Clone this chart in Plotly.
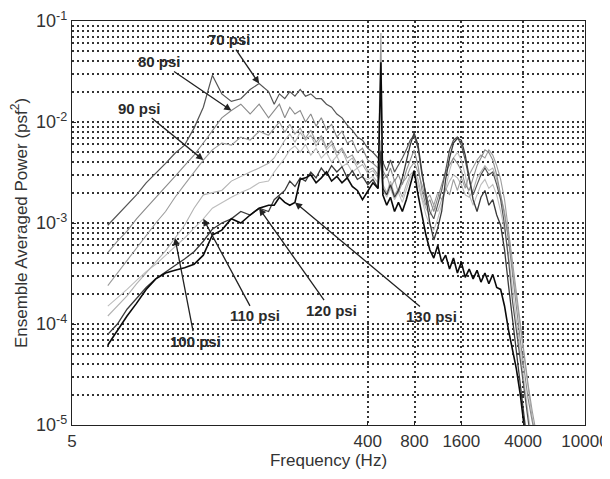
import math
import plotly.graph_objects as go

# Frequency grid (Hz)
freq_hz = [
    8.5, 9.8, 11.3, 13.0, 15.0, 17.3, 20, 23, 26.5, 30.5, 35, 40, 46, 53, 61, 70, 80, 92,
    100, 108, 117, 126, 136, 147, 159, 172, 186, 201, 217, 234, 253, 273, 295, 318, 343, 370, 400, 432, 466,
    486,
    500, 530, 560, 595, 630, 668, 708, 750, 795, 843, 893, 947, 1004, 1064, 1128, 1196, 1268, 1344, 1424, 1510,
    1600, 1696, 1798, 1906, 2020, 2141, 2270, 2406, 2550, 2703, 2865, 3037, 3220, 3413, 3617, 3835, 4065, 4308,
    4567, 4841, 5131, 5439, 5765, 6111,
]

p70 = [
    9.5e-4, 1.2e-3, 1.5e-3, 1.9e-3, 2.5e-3, 3.1e-3, 3.9e-3, 4.9e-3, 5.9e-3, 8.7e-3, 1.4e-2, 2.9e-2, 1.9e-2, 1.6e-2, 1.7e-2, 2.1e-2, 2.4e-2, 2.0e-2,
    1.5e-2, 1.9e-2, 1.7e-2, 2.0e-2, 1.8e-2, 2.1e-2, 1.8e-2, 1.9e-2, 1.7e-2, 1.7e-2, 1.5e-2, 1.4e-2, 1.2e-2, 1.1e-2, 9.3e-3, 8.3e-3, 7.1e-3, 6.6e-3, 5.5e-3, 5.0e-3, 4.4e-3,
    5.2e-3,
    4.0e-3, 3.3e-3, 4.2e-3, 3.2e-3, 3.7e-3, 4.4e-3, 5.3e-3, 6.6e-3, 7.4e-3, 5.5e-3, 3.0e-3, 1.9e-3, 1.3e-3, 1.1e-3, 1.5e-3, 2.1e-3, 3.3e-3, 5.3e-3, 6.6e-3, 7.1e-3,
    5.9e-3, 4.2e-3, 2.7e-3, 1.9e-3, 2.4e-3, 3.0e-3, 3.5e-3, 3.0e-3, 3.2e-3, 2.4e-3, 1.7e-3, 9.5e-4, 4.3e-4, 1.7e-4, 8.7e-5, 4.4e-5, 2.0e-5, 1.0e-5,
    5.6e-6, None, None, None, None, None,
]
p80 = [
    5.1e-4, 6.6e-4, 8.3e-4, 1.1e-3, 1.4e-3, 1.8e-3, 2.3e-3, 2.9e-3, 3.7e-3, 4.7e-3, 6.2e-3, 8.3e-3, 1.1e-2, 1.3e-2, 1.5e-2, 1.2e-2, 1.5e-2, 1.1e-2,
    1.3e-2, 1.5e-2, 1.1e-2, 1.4e-2, 1.2e-2, 1.3e-2, 1.0e-2, 1.2e-2, 9.1e-3, 1.1e-2, 8.3e-3, 9.5e-3, 7.1e-3, 8.1e-3, 6.2e-3, 6.6e-3, 5.0e-3, 5.5e-3, 4.2e-3, 3.9e-3, 3.5e-3,
    4.7e-3,
    3.3e-3, 2.8e-3, 3.5e-3, 2.6e-3, 3.0e-3, 2.4e-3, 3.3e-3, 4.2e-3, 5.3e-3, 3.7e-3, 2.1e-3, 1.5e-3, 1.7e-3, 1.3e-3, 1.8e-3, 2.4e-3, 3.2e-3, 3.7e-3, 4.4e-3, 3.9e-3,
    3.3e-3, 2.4e-3, 2.1e-3, 2.8e-3, 3.7e-3, 4.4e-3, 5.3e-3, 5.0e-3, 4.2e-3, 3.0e-3, 1.9e-3, 1.2e-3, 6.8e-4, 3.1e-4, 1.4e-4, 6.9e-5, 3.5e-5, 1.8e-5,
    1.1e-5, 7.1e-6, None, None, None, None,
]
p90 = [
    2.4e-4, 3.2e-4, 4.3e-4, 5.6e-4, 7.6e-4, 1.0e-3, 1.3e-3, 1.8e-3, 2.4e-3, 3.2e-3, 4.2e-3, 5.3e-3, 6.2e-3, 5.9e-3, 7.1e-3, 6.6e-3, 8.1e-3, 7.4e-3,
    8.7e-3, 1.0e-2, 7.9e-3, 9.5e-3, 7.6e-3, 8.7e-3, 6.9e-3, 8.3e-3, 6.3e-3, 7.3e-3, 5.6e-3, 6.5e-3, 5.0e-3, 5.5e-3, 4.4e-3, 4.7e-3, 3.8e-3, 4.2e-3, 3.3e-3, 3.5e-3, 3.0e-3,
    7.6e-2,
    2.7e-3, 3.0e-3, 2.2e-3, 2.7e-3, 2.0e-3, 2.5e-3, 2.8e-3, 3.5e-3, 4.0e-3, 3.2e-3, 2.4e-3, 1.7e-3, 1.9e-3, 1.5e-3, 2.0e-3, 1.7e-3, 2.2e-3, 1.9e-3, 2.7e-3, 2.1e-3,
    2.8e-3, 2.2e-3, 3.0e-3, 3.5e-3, 4.2e-3, 4.7e-3, 4.4e-3, 5.3e-3, 4.7e-3, 3.7e-3, 2.7e-3, 1.7e-3, 8.5e-4, 4.1e-4, 1.9e-4, 9.8e-5, 4.9e-5, 2.5e-5,
    1.4e-5, 8.5e-6, 6.3e-6, None, None, None,
]
p100 = [
    1.2e-4, 1.5e-4, 1.9e-4, 2.5e-4, 3.2e-4, 4.1e-4, 5.3e-4, 7.1e-4, 9.5e-4, 1.4e-3, 1.9e-3, 2.0e-3, 2.1e-3, 2.6e-3, 2.9e-3, 3.2e-3, 3.5e-3, 3.9e-3,
    4.4e-3, 5.3e-3, 6.6e-3, 7.6e-3, 6.3e-3, 7.9e-3, 6.6e-3, 7.4e-3, 5.8e-3, 6.9e-3, 5.3e-3, 6.0e-3, 4.6e-3, 5.3e-3, 4.0e-3, 4.4e-3, 3.5e-3, 3.8e-3, 3.1e-3, 3.3e-3, 2.8e-3,
    6.6e-3,
    2.4e-3, 2.0e-3, 2.6e-3, 1.9e-3, 2.2e-3, 1.8e-3, 2.4e-3, 3.0e-3, 3.3e-3, 2.7e-3, 1.8e-3, 1.4e-3, 1.2e-3, 1.5e-3, 1.3e-3, 1.7e-3, 2.1e-3, 2.6e-3, 3.0e-3, 2.8e-3,
    2.4e-3, 1.9e-3, 1.8e-3, 2.1e-3, 2.8e-3, 3.2e-3, 3.7e-3, 3.3e-3, 3.5e-3, 2.7e-3, 1.9e-3, 1.3e-3, 7.1e-4, 3.6e-4, 1.8e-4, 8.7e-5, 4.2e-5, 2.1e-5,
    1.2e-5, 7.1e-6, None, None, None, None,
]
p110 = [
    1.5e-4, 1.8e-4, 2.2e-4, 2.7e-4, 3.3e-4, 3.9e-4, 4.8e-4, 5.8e-4, 7.1e-4, 8.9e-4, 1.1e-3, 1.4e-3, 1.6e-3, 1.8e-3, 2.0e-3, 2.2e-3, 2.5e-3, 2.6e-3,
    3.2e-3, 3.7e-3, 4.4e-3, 5.3e-3, 5.8e-3, 5.0e-3, 6.0e-3, 4.7e-3, 5.5e-3, 4.4e-3, 5.0e-3, 4.0e-3, 4.6e-3, 3.6e-3, 3.9e-3, 3.2e-3, 3.5e-3, 2.8e-3, 2.7e-3, 2.9e-3, 2.5e-3,
    4.2e-3,
    2.1e-3, 1.8e-3, 2.2e-3, 1.7e-3, 2.0e-3, 1.6e-3, 2.1e-3, 2.8e-3, 3.2e-3, 2.4e-3, 1.7e-3, 1.2e-3, 9.5e-4, 8.5e-4, 1.1e-3, 1.5e-3, 2.2e-3, 3.3e-3, 4.4e-3, 5.0e-3,
    4.2e-3, 3.0e-3, 1.9e-3, 1.5e-3, 1.9e-3, 2.4e-3, 2.7e-3, 2.2e-3, 2.4e-3, 1.9e-3, 1.3e-3, 8.5e-4, 4.8e-4, 2.2e-4, 1.1e-4, 5.5e-5, 2.5e-5, 1.3e-5,
    7.1e-6, None, None, None, None, None,
]
p120 = [
    7.9e-5, 1.0e-4, 1.4e-4, 1.8e-4, 2.3e-4, 2.8e-4, 3.3e-4, 3.8e-4, 4.4e-4, 5.2e-4, 6.6e-4, 8.7e-4, 1.0e-3, 1.1e-3, 1.3e-3, 1.2e-3, 1.4e-3, 1.3e-3,
    1.7e-3, 1.9e-3, 2.1e-3, 2.6e-3, 2.3e-3, 2.8e-3, 2.6e-3, 3.2e-3, 2.8e-3, 3.5e-3, 3.0e-3, 3.7e-3, 3.2e-3, 3.6e-3, 2.8e-3, 3.3e-3, 2.7e-3, 2.9e-3, 2.4e-3, 2.7e-3, 2.2e-3,
    5.0e-3,
    2.2e-3, 1.9e-3, 2.4e-3, 1.8e-3, 2.1e-3, 2.8e-3, 4.2e-3, 5.9e-3, 7.8e-3, 5.9e-3, 3.2e-3, 1.7e-3, 1.0e-3, 6.8e-4, 8.9e-4, 1.3e-3, 2.7e-3, 4.4e-3, 6.2e-3, 6.9e-3,
    6.6e-3, 4.7e-3, 2.8e-3, 1.7e-3, 1.3e-3, 1.8e-3, 2.1e-3, 1.5e-3, 1.7e-3, 1.2e-3, 9.5e-4, 5.4e-4, 2.4e-4, 1.1e-4, 4.9e-5, 2.5e-5, 1.1e-5, 5.6e-6,
    None, None, None, None, None, None,
]
p130 = [
    6.2e-5, 8.7e-5, 1.2e-4, 1.6e-4, 2.2e-4, 2.8e-4, 3.2e-4, 3.4e-4, 3.6e-4, 3.9e-4, 4.8e-4, 7.6e-4, 8.5e-4, 1.1e-3, 1.0e-3, 1.2e-3, 1.4e-3, 1.5e-3,
    1.5e-3, 1.8e-3, 1.6e-3, 1.5e-3, 1.6e-3, 2.7e-3, 2.8e-3, 3.0e-3, 2.5e-3, 2.8e-3, 3.2e-3, 2.6e-3, 2.9e-3, 2.5e-3, 2.8e-3, 2.3e-3, 2.1e-3, 1.7e-3, 2.1e-3, 2.5e-3, 2.2e-3,
    3.9e-2,
    1.9e-3, 1.5e-3, 1.8e-3, 1.3e-3, 1.6e-3, 1.3e-3, 1.7e-3, 2.4e-3, 3.3e-3, 1.9e-3, 1.2e-3, 7.6e-4, 5.4e-4, 4.5e-4, 6.0e-4, 4.1e-4, 4.8e-4, 3.5e-4, 4.5e-4, 3.2e-4,
    4.1e-4, 2.9e-4, 3.5e-4, 2.8e-4, 3.4e-4, 2.6e-4, 3.2e-4, 2.5e-4, 3.1e-4, 2.3e-4, 2.2e-4, 1.5e-4, 8.7e-5, 5.5e-5, 3.6e-5, 2.0e-5, 8.9e-6, 4.5e-6,
    None, None, None, None, None, None,
]

series_labels = ["70 psi", "80 psi", "90 psi", "100 psi", "110 psi", "120 psi", "130 psi"]
series_values = [p70, p80, p90, p100, p110, p120, p130]

x_tick_values = [5, 400, 800, 1600, 4000, 10000]
x_tick_labels = ["5", "400", "800", "1600", "4000", "10000"]
y_tick_values = [1e-5, 1e-4, 1e-3, 1e-2, 1e-1]
y_tick_labels = ["10<sup>-5</sup>", "10<sup>-4</sup>", "10<sup>-3</sup>", "10<sup>-2</sup>", "10<sup>-1</sup>"]

# styling
colors = ["#555555", "#8a8a8a", "#9c9c9c", "#b2b2b2", "#bebebe", "#3a3a3a", "#0a0a0a"]
widths = [1.2, 1.1, 1.1, 1.1, 1.1, 1.3, 1.6]
draw_order = [4, 3, 2, 1, 0, 5, 6]
tip_index = [16, 13, 10, 7, 10, 16, 22]
label_offsets = [(-30, -44), (-72, -49), (-64, -52), (20, 103), (52, 97), (72, 102), (137, 114)]

FONT = "Arial, Liberation Sans, sans-serif"

fig = go.Figure()
for k in draw_order:
    fig.add_trace(go.Scatter(
        x=freq_hz, y=series_values[k], mode="lines", name=series_labels[k],
        line=dict(color=colors[k], width=widths[k]), connectgaps=False,
        showlegend=False,
    ))

for k, lab in enumerate(series_labels):
    i = tip_index[k]
    ax, ay = label_offsets[k]
    fig.add_annotation(
        x=math.log10(freq_hz[i]), y=math.log10(series_values[k][i]),
        xref="x", yref="y", text="<b>" + lab + "</b>",
        showarrow=True, ax=ax, ay=ay, arrowhead=2, arrowsize=1.1,
        arrowwidth=1.3, arrowcolor="#222222", standoff=0, startstandoff=0,
        font=dict(family=FONT, size=15, color="#2a2a2a"),
    )

minor_y = [m * 10 ** e for e in range(-5, -1) for m in range(2, 10)]
GRID_COLOR = "#333333"
GRID_DASH = "2px,3px"
GRID_W = 1.6

fig.update_xaxes(
    type="log", range=[math.log10(5), 4], automargin=False,
    tickvals=x_tick_values, ticktext=x_tick_labels,
    showgrid=True, gridcolor=GRID_COLOR, gridwidth=GRID_W, griddash=GRID_DASH,
    showline=True, linecolor="#222222", linewidth=1.4, mirror=True,
    ticks="inside", ticklen=4, tickcolor="#222222",
    tickfont=dict(family=FONT, size=17, color="#333333"),
    title=dict(text="Frequency (Hz)", font=dict(family=FONT, size=17, color="#333333"), standoff=4),
    zeroline=False,
)
fig.update_yaxes(
    type="log", range=[-5, -1], automargin=False,
    tickvals=y_tick_values, ticktext=y_tick_labels,
    showgrid=True, gridcolor=GRID_COLOR, gridwidth=GRID_W, griddash=GRID_DASH,
    minor=dict(tickvals=minor_y, showgrid=True, gridcolor=GRID_COLOR, gridwidth=GRID_W,
               griddash=GRID_DASH, ticks=""),
    showline=True, linecolor="#222222", linewidth=1.4, mirror=True,
    ticks="inside", ticklen=4, tickcolor="#222222",
    tickfont=dict(family=FONT, size=18, color="#333333"),
    title=dict(text="Ensemble Averaged Power (psf<sup>2</sup>)", font=dict(family=FONT, size=17, color="#333333"), standoff=4),
    zeroline=False,
)

# the page body adds an 8px offset, so the figure is sized to fit the window
fig.update_layout(
    width=602, height=471,
    margin=dict(l=64, r=25, t=13, b=54),
    plot_bgcolor="white", paper_bgcolor="white",
    showlegend=False,
)

fig.write_html("out.html")
